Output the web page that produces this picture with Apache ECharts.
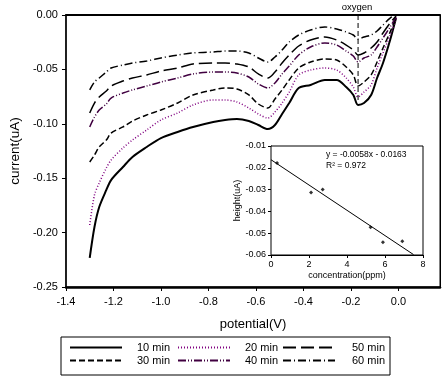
<!DOCTYPE html>
<html><head><meta charset="utf-8">
<script src="https://cdn.jsdelivr.net/npm/echarts@6/dist/echarts.min.js"></script>
<style>html,body{margin:0;padding:0;background:#fff}#c{width:446px;height:378px}</style>
</head><body><div id="c"></div>
<script>
// potential (V) sample positions
const potential = [-1.30,-1.28,-1.26,-1.23,-1.21,-1.16,-1.12,-1.06,-1.00,-0.93,-0.865,-0.78,-0.73,-0.68,-0.63,-0.59,-0.55,-0.52,-0.49,-0.46,-0.42,-0.37,-0.31,-0.26,-0.22,-0.19,-0.17,-0.145,-0.115,-0.09,-0.065,-0.035,-0.01];
// current (uA) per run
const min10 = [-0.2233,-0.1949,-0.1765,-0.1608,-0.1517,-0.1397,-0.1305,-0.1213,-0.1131,-0.1075,-0.1029,-0.0983,-0.0965,-0.0956,-0.0974,-0.1011,-0.1048,-0.1011,-0.0910,-0.0809,-0.0671,-0.0643,-0.0597,-0.0597,-0.0662,-0.0735,-0.0827,-0.0809,-0.0735,-0.0579,-0.0441,-0.0230,-0.0028];
const min20 = [-0.1930,-0.1654,-0.1544,-0.1406,-0.1333,-0.1222,-0.1149,-0.1057,-0.0965,-0.0901,-0.0827,-0.0781,-0.0781,-0.0800,-0.0855,-0.0910,-0.0947,-0.0892,-0.0809,-0.0708,-0.0551,-0.0506,-0.0487,-0.0506,-0.0579,-0.0662,-0.0754,-0.0708,-0.0643,-0.0487,-0.0349,-0.0184,-0.0028];
const min30 = [-0.1351,-0.1287,-0.1213,-0.1149,-0.1085,-0.1029,-0.0974,-0.0919,-0.0873,-0.0809,-0.0735,-0.0689,-0.0671,-0.0680,-0.0735,-0.0818,-0.0855,-0.0772,-0.0689,-0.0597,-0.0487,-0.0432,-0.0404,-0.0414,-0.0478,-0.0551,-0.0653,-0.0616,-0.0551,-0.0432,-0.0303,-0.0156,-0.0018];
const min40 = [-0.1029,-0.0938,-0.0873,-0.0818,-0.0763,-0.0717,-0.0689,-0.0653,-0.0616,-0.0579,-0.0542,-0.0524,-0.0524,-0.0533,-0.0570,-0.0634,-0.0671,-0.0625,-0.0542,-0.0469,-0.0368,-0.0294,-0.0257,-0.0276,-0.0331,-0.0377,-0.0432,-0.0395,-0.0368,-0.0294,-0.0211,-0.0110,-0.0018];
const min50 = [-0.0901,-0.0809,-0.0754,-0.0699,-0.0653,-0.0607,-0.0579,-0.0551,-0.0515,-0.0487,-0.0450,-0.0441,-0.0441,-0.0450,-0.0478,-0.0542,-0.0579,-0.0524,-0.0441,-0.0368,-0.0285,-0.0230,-0.0202,-0.0230,-0.0276,-0.0322,-0.0368,-0.0349,-0.0303,-0.0248,-0.0165,-0.0074,-0.0009];
const min60 = [-0.0689,-0.0616,-0.0579,-0.0524,-0.0487,-0.0460,-0.0441,-0.0423,-0.0395,-0.0368,-0.0349,-0.0340,-0.0331,-0.0331,-0.0349,-0.0395,-0.0432,-0.0386,-0.0322,-0.0248,-0.0184,-0.0138,-0.0110,-0.0129,-0.0156,-0.0184,-0.0221,-0.0202,-0.0184,-0.0147,-0.0092,-0.0028,0.0000];
const runNames = ['10 min','20 min','30 min','40 min','50 min','60 min'];
// oxygen marker
const oxygenPotential = -0.17;
const oxygenSpan = [0, -0.08];
// inset: peak height vs concentration
const concentration = [0.32, 2.11, 2.72, 5.24, 5.89, 6.91];
const peakHeight = [-0.0178, -0.0313, -0.0300, -0.0473, -0.0542, -0.0537];
const trendX = [0, 7.5];
const trendY = [-0.0163, -0.0598];
const equationText = 'y = -0.0058x - 0.0163';
const r2Text = 'R\u00b2 = 0.972';

const FONT = "'Liberation Sans', Arial, sans-serif";
const runs = [min10, min20, min30, min40, min50, min60];
const styles = [
  {color:'#000', type:'solid', width:2},
  {color:'#800080', type:[1,2], width:1.5},
  {color:'#000', type:[6,3], width:1.5},
  {color:'#400040', type:[8,2,1,2,1,2], width:1.5},
  {color:'#000', type:[13,5], width:1.5},
  {color:'#000', type:[8,3,1,3], width:1.5}
];
const series = runs.map((arr, k) => ({
  name: runNames[k], type:'line', xAxisIndex:0, yAxisIndex:0,
  data: potential.map((v,i)=>[v, arr[i]]),
  symbol:'none', smooth:0.3, lineStyle: styles[k], itemStyle:{color: styles[k].color}, z:3
}));
series.push({
  type:'line', xAxisIndex:0, yAxisIndex:0, symbol:'none',
  data: oxygenSpan.map(c=>[oxygenPotential, c]),
  lineStyle:{color:'#000', width:1, type:[5,3]}, z:4, silent:true
});
series.push({
  type:'scatter', xAxisIndex:2, yAxisIndex:2,
  data: concentration.map((c,i)=>[c, peakHeight[i]]),
  symbol:'diamond', symbolSize:4, itemStyle:{color:'#000'}, z:6
});
series.push({
  type:'line', xAxisIndex:2, yAxisIndex:2, symbol:'none',
  data: trendX.map((c,i)=>[c, trendY[i]]),
  lineStyle:{color:'#000', width:1}, z:5
});

// legend positions (3 columns x 2 rows)
const legendSlots = {'10 min':[69,342],'20 min':[177,342],'50 min':[282,342],'30 min':[69,355],'40 min':[177,355],'60 min':[282,355]};
const legends = Object.keys(legendSlots).map(n => ({
  data:[n], left: legendSlots[n][0], top: legendSlots[n][1], padding:0,
  itemWidth:52, itemHeight:13, selectedMode:false,
  itemStyle:{color:'rgba(0,0,0,0)', borderColor:'rgba(0,0,0,0)', borderWidth:0, opacity:0},
  textStyle:{fontFamily:FONT, fontSize:11, color:'#000', padding:[0,0,0, n==='50 min'||n==='60 min'?12:10]}
}));

const chart = echarts.init(document.getElementById('c'), null, {renderer:'canvas'});
chart.setOption({
  backgroundColor:'#fff', animation:false,
  textStyle:{fontFamily:FONT},
  grid:[
    {left:61, top:15, right:6, bottom:91, show:true, borderColor:'#000', borderWidth:1},
    {left:271, top:146, width:152, height:109, show:true, backgroundColor:'#fff', borderColor:'#000', borderWidth:1, z:4}
  ],
  xAxis:[
    {type:'value', gridIndex:0, min:-1.4, max:0.175, interval:0.2, name:'potential(V)', nameLocation:'middle', nameGap:31,
     nameTextStyle:{fontSize:13, color:'#000', fontFamily:FONT},
     axisLine:{onZero:false, lineStyle:{color:'#000', width:2.5}}, axisTick:{length:4, lineStyle:{color:'#000'}},
     axisLabel:{fontSize:11, color:'#000', margin:9, showMaxLabel:false, fontFamily:FONT,
       formatter:v=>Math.abs(v)<1e-9?'0.0':v.toFixed(1)}, splitLine:{show:false}},
    {type:'value', gridIndex:0, position:'top', min:-1.4, max:0.175, axisLine:{onZero:false, lineStyle:{color:'#000', width:2}},
     axisTick:{show:false}, axisLabel:{show:false}, splitLine:{show:false}},
    {type:'value', gridIndex:1, min:0, max:8, interval:2, name:'concentration(ppm)', nameLocation:'middle', nameGap:16,
     nameTextStyle:{fontSize:9, color:'#000', fontFamily:FONT},
     axisLine:{onZero:false, lineStyle:{color:'#000', width:1}}, axisTick:{length:3, lineStyle:{color:'#000'}},
     axisLabel:{fontSize:9, color:'#000', margin:5, fontFamily:FONT}, splitLine:{show:false}}
  ],
  yAxis:[
    {type:'value', gridIndex:0, min:-0.25, max:0, interval:0.05, name:'current(uA)', nameLocation:'middle', nameGap:42,
     nameTextStyle:{fontSize:13.5, color:'#000', fontFamily:FONT},
     axisLine:{onZero:false, lineStyle:{color:'#000', width:1.5}}, axisTick:{length:4, lineStyle:{color:'#000'}},
     axisLabel:{fontSize:11, color:'#000', margin:8, fontFamily:FONT,
       formatter:v=>Math.abs(v)<1e-9?'0.00':v.toFixed(2)}, splitLine:{show:false}},
    {type:'value', gridIndex:0, position:'right', min:-0.25, max:0, axisLine:{onZero:false, lineStyle:{color:'#000', width:1}},
     axisTick:{show:false}, axisLabel:{show:false}, splitLine:{show:false}},
    {type:'value', gridIndex:1, min:-0.06, max:-0.01, interval:0.01, name:'height(uA)', nameLocation:'middle', nameGap:28,
     nameTextStyle:{fontSize:9, color:'#000', fontFamily:FONT},
     axisLine:{onZero:false, lineStyle:{color:'#000', width:1}}, axisTick:{length:3, lineStyle:{color:'#000'}},
     axisLabel:{fontSize:9, color:'#000', margin:5, fontFamily:FONT, formatter:v=>v.toFixed(2)}, splitLine:{show:false}}
  ],
  legend: legends,
  graphic:[
    {type:'rect', shape:{x:61, y:337, width:329, height:38}, style:{fill:'none', stroke:'#000', lineWidth:1}, z:-1},
    {type:'text', style:{text:'oxygen', x:357, y:7, font:'9.5px '+FONT, fill:'#000', align:'center', verticalAlign:'middle'}},
    {type:'text', style:{text:equationText, x:326, y:155, font:'8.5px '+FONT, fill:'#000', verticalAlign:'middle'}, z:10},
    {type:'text', style:{text:r2Text, x:326, y:166, font:'8.5px '+FONT, fill:'#000', verticalAlign:'middle'}, z:10}
  ],
  series: series
});
</script></body></html>
